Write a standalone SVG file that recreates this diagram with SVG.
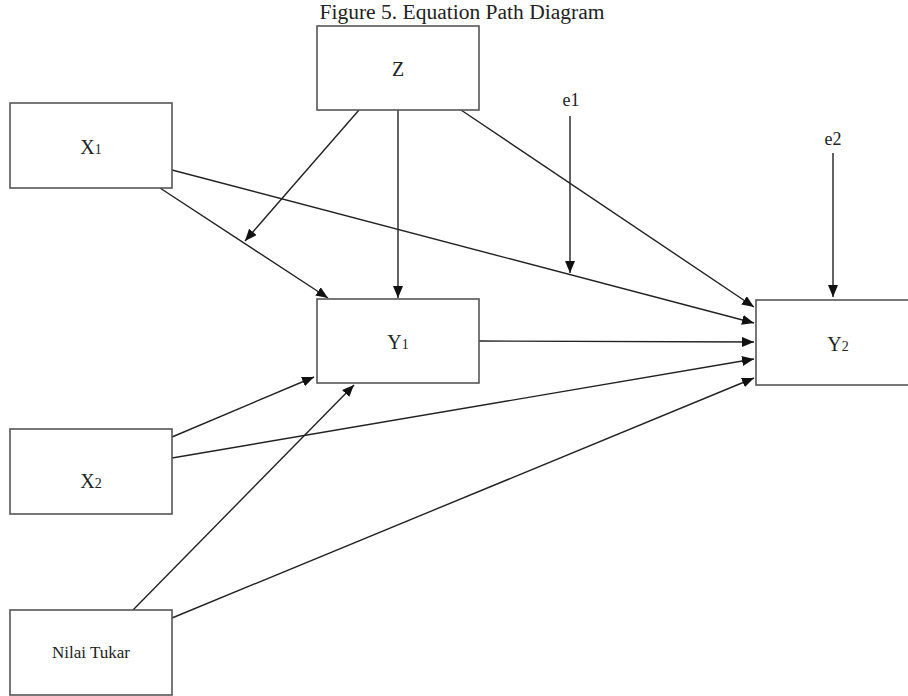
<svg xmlns="http://www.w3.org/2000/svg" width="908" height="696" viewBox="0 0 908 696">
<defs>
<marker id="ah" viewBox="0 0 12 10" refX="12" refY="5" markerWidth="12" markerHeight="10" markerUnits="userSpaceOnUse" orient="auto">
<path d="M0,0 L12,5 L0,10 Z" fill="#111"/>
</marker>
<style>
.box{fill:#fff;stroke:#555;stroke-width:1.6}
.lbl{font-family:"Liberation Serif","Times New Roman",serif;font-size:20px;fill:#222;text-anchor:middle}
.sub{font-size:14px}
.edge{stroke:#222;stroke-width:1.4;fill:none;marker-end:url(#ah)}
</style>
</defs>
<rect width="908" height="696" fill="#fff"/>
<text x="462" y="19" class="lbl" textLength="285" lengthAdjust="spacingAndGlyphs">Figure 5. Equation Path Diagram</text>
<g id="connectors">
<line class="edge" x1="359" y1="110" x2="245" y2="241"/>
<line class="edge" x1="398" y1="110" x2="398" y2="298"/>
<line class="edge" x1="461" y1="110" x2="754" y2="307"/>
<line class="edge" x1="172" y1="170" x2="754" y2="323"/>
<line class="edge" x1="160" y1="188" x2="328" y2="298"/>
<line class="edge" x1="479" y1="341" x2="754" y2="342"/>
<line class="edge" x1="172" y1="437" x2="314" y2="377"/>
<line class="edge" x1="172" y1="458" x2="754" y2="359"/>
<line class="edge" x1="133" y1="610" x2="354" y2="385"/>
<line class="edge" x1="172" y1="618" x2="754" y2="378"/>
<line class="edge" x1="570" y1="116" x2="570" y2="273"/>
<line class="edge" x1="833" y1="153" x2="833" y2="297"/>
</g>
<g id="Z">
<rect class="box" x="317" y="26" width="162" height="84"/>
<text class="lbl" x="398" y="76">Z</text>
</g>
<g id="X1">
<rect class="box" x="10" y="103" width="162" height="85"/>
<text class="lbl" x="91" y="154">X<tspan class="sub">1</tspan></text>
</g>
<g id="Y1">
<rect class="box" x="317" y="299" width="162" height="84"/>
<text class="lbl" x="398" y="349">Y<tspan class="sub">1</tspan></text>
</g>
<g id="Y2">
<rect class="box" x="756" y="300" width="170" height="85"/>
<text class="lbl" x="838" y="351">Y<tspan class="sub">2</tspan></text>
</g>
<g id="X2">
<rect class="box" x="10" y="429" width="162" height="85"/>
<text class="lbl" x="91" y="488">X<tspan class="sub">2</tspan></text>
</g>
<g id="NilaiTukar">
<rect class="box" x="10" y="610" width="162" height="85"/>
<text class="lbl" x="91" y="658" style="font-size:16px" textLength="78" lengthAdjust="spacingAndGlyphs">Nilai Tukar</text>
</g>
<g id="e1">
<text class="lbl" x="571" y="106" style="font-size:18px">e1</text>
</g>
<g id="e2">
<text class="lbl" x="833" y="145" style="font-size:18px">e2</text>
</g>
</svg>
